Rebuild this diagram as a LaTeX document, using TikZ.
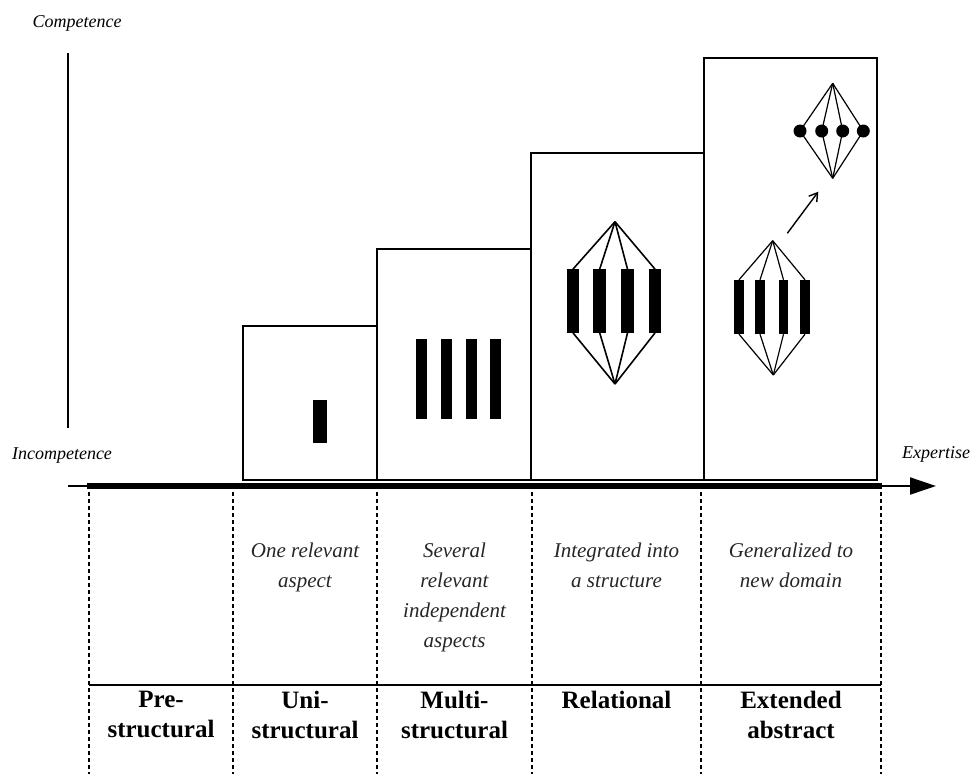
\documentclass[tikz,border=0pt]{standalone}
\usepackage{fontspec}
\setmainfont{Liberation Serif}
\usetikzlibrary{arrows.meta}

\begin{document}
\begin{tikzpicture}[x=1pt,y=-1pt,
  levelbox/.style={draw, line width=1.8pt, inner sep=0pt, anchor=south west},
  bar/.style={fill=black, draw=none, inner sep=0pt},
  dot/.style={circle, fill=black, inner sep=0pt, minimum size=13pt},
  link/.style={line width=1.6pt},
  thinlink/.style={line width=1.2pt},
  divider/.style={line width=1.6pt, dash pattern=on 4pt off 3pt},
  axislabel/.style={font=\fontsize{18}{20}\selectfont\itshape, inner sep=0pt, anchor=base},
  aspect/.style={font=\fontsize{21}{30}\selectfont\itshape, align=center, anchor=north, inner sep=0pt, text=black!85},
  levelname/.style={font=\fontsize{25}{30}\selectfont\bfseries, align=center, anchor=north, inner sep=0pt}
]
\useasboundingbox (0,0) rectangle (976,774);

% axes
\coordinate (ytop) at (68,53);
\coordinate (ybot) at (68,428);
\draw[line width=2.5pt] (ytop) -- (ybot);
\coordinate (xstart) at (68,486);
\coordinate (xend) at (936,486);
\coordinate (tstart) at (87,486);
\coordinate (tend) at (882,486);
\draw[line width=2pt, -{Triangle[length=26pt,width=17pt]}] (xstart) -- (xend);
\draw[line width=5.5pt] (tstart) -- (tend);

\node[axislabel] (competence) at (77,27) {Competence};
\node[axislabel] (incompetence) at (62,459) {Incompetence};
\node[axislabel, anchor=base west] (expertise) at (902,458) {Expertise};

% competence steps
\node[levelbox, minimum width=134pt, minimum height=154pt] (uni) at (242,481) {};
\node[levelbox, minimum width=154pt, minimum height=231pt] (multi) at (376,481) {};
\node[levelbox, minimum width=173pt, minimum height=327pt] (rel) at (530,481) {};
\node[levelbox, minimum width=173pt, minimum height=422pt] (ext) at (703,481) {};

% unistructural: one aspect
\node[bar, minimum width=14pt, minimum height=43pt] (u1) at (320,421.5) {};

% multistructural: independent aspects
\foreach \i/\x in {1/421.5, 2/446.3, 3/471.7, 4/495.5}
  \node[bar, minimum width=11pt, minimum height=80pt] (m\i) at (\x,379) {};

% relational: aspects tied into one structure
\coordinate (rtop) at (615,221.7);
\coordinate (rbot) at (615,384);
\foreach \i/\x in {1/573, 2/599.7, 3/627.5, 4/655} {
  \node[bar, minimum width=12.5pt, minimum height=63.4pt] (r\i) at (\x,301) {};
  \draw[link] (rtop) -- (r\i.north);
  \draw[link] (r\i.south) -- (rbot);
}

% extended abstract: structure carried over to a new domain
\coordinate (etop) at (772.7,240.7);
\coordinate (ebot) at (773.3,375);
\foreach \i/\x in {1/739, 2/760, 3/783.5, 4/805} {
  \node[bar, minimum width=9.5pt, minimum height=54pt] (e\i) at (\x,307) {};
  \draw[thinlink] (etop) -- (e\i.north);
  \draw[thinlink] (e\i.south) -- (ebot);
}
\coordinate (gtop) at (832.7,83.3);
\coordinate (gbot) at (832.7,178.3);
\foreach \i/\x in {1/800, 2/821.7, 3/842.7, 4/863.3} {
  \node[dot] (g\i) at (\x,131) {};
  \draw[thinlink] (gtop) -- (g\i.center);
  \draw[thinlink] (g\i.center) -- (gbot);
}
\coordinate (afrom) at (787.3,233.3);
\coordinate (ato) at (818.3,191.7);
\draw[line width=1.4pt, -{Straight Barb[length=8pt,width=10pt]}] (afrom) -- (ato);

% table below the axis
\foreach \n/\x in {0/89, 1/233, 2/377, 3/532, 4/701, 5/881} {
  \coordinate (d\n t) at (\x,492);
  \coordinate (d\n b) at (\x,774);
  \draw[divider] (d\n t) -- (d\n b);
}
\coordinate (hl) at (89,685);
\coordinate (hr) at (881,685);
\draw[line width=1.3pt] (hl) -- (hr);

\node[aspect] (a1) at (305,543) {One relevant\\aspect};
\node[aspect] (a2) at (454.5,543) {Several\\relevant\\independent\\aspects};
\node[aspect] (a3) at (616.5,543) {Integrated into\\a structure};
\node[aspect] (a4) at (791,543) {Generalized to\\new domain};

\node[levelname] (n0) at (161,691) {Pre-\\structural};
\node[levelname] (n1) at (305,691) {Uni-\\structural};
\node[levelname] (n2) at (454.5,691) {Multi-\\structural};
\node[levelname] (n3) at (616.5,691) {Relational};
\node[levelname] (n4) at (791,691) {Extended\\abstract};
\end{tikzpicture}
\end{document}
